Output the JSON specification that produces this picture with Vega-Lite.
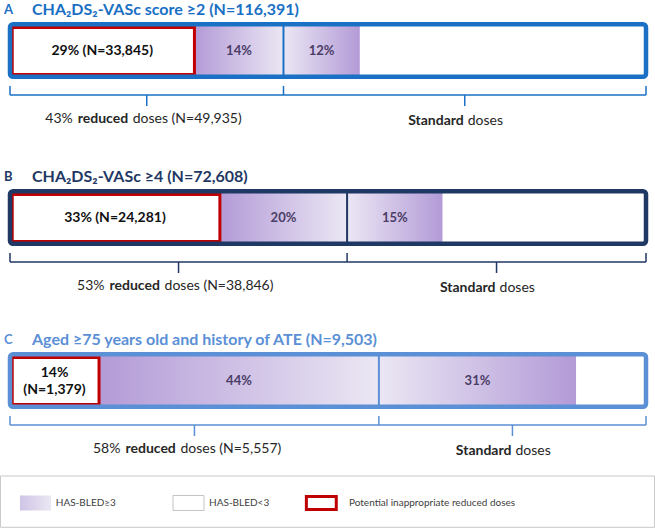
{
  "$schema": "https://vega.github.io/schema/vega-lite/v6.json",
  "width": 655,
  "height": 528,
  "autosize": {"type": "none"},
  "padding": 0,
  "config": {"view": {"stroke": null}, "font": "Lato"},
  "data": {"values": [
    {"panel": "A", "letter": "A", "title": "CHA₂DS₂-VASc score ≥2 (N=116,391)", "inappropriate": 29, "inappropriate_label": "29% (N=33,845)", "reduced_high": 14, "reduced_total": 43, "reduced_n": "49,935", "standard_high": 12},
    {"panel": "B", "letter": "B", "title": "CHA₂DS₂-VASc ≥4 (N=72,608)", "inappropriate": 33, "inappropriate_label": "33% (N=24,281)", "reduced_high": 20, "reduced_total": 53, "reduced_n": "38,846", "standard_high": 15},
    {"panel": "C", "letter": "C", "title": "Aged ≥75 years old and history of ATE (N=9,503)", "inappropriate": 14, "inappropriate_label": "14%\n(N=1,379)", "reduced_high": 44, "reduced_total": 58, "reduced_n": "5,557", "standard_high": 31}
  ]},
  "transform": [
    {"calculate": "datum.reduced_total + datum.standard_high", "as": "standard_end"},
    {"calculate": "datum.inappropriate / 2", "as": "mid_inap"},
    {"calculate": "(datum.inappropriate + datum.reduced_total) / 2", "as": "mid_rh"},
    {"calculate": "(2 * datum.reduced_total + datum.standard_high) / 2", "as": "mid_sh"},
    {"calculate": "datum.reduced_total / 2", "as": "mid_r"},
    {"calculate": "(datum.reduced_total + 100) / 2", "as": "mid_s"},
    {"calculate": "datum.reduced_high + '%'", "as": "rh_label"},
    {"calculate": "datum.standard_high + '%'", "as": "sh_label"},
    {"calculate": "datum.reduced_total + '%'", "as": "r_pct"},
    {"calculate": "'doses (N=' + datum.reduced_n + ')'", "as": "r_rest"},
    {"calculate": "split(datum.inappropriate_label, '\\n').length", "as": "n_lines"},
    {"calculate": "datum.panel === 'A' ? 0 : datum.panel === 'B' ? 167 : 330", "as": "top"},
    {"calculate": "datum.top + 10", "as": "y_title"},
    {"calculate": "datum.top + 24.25", "as": "y_bar1"},
    {"calculate": "datum.top + 76.75", "as": "y_bar2"},
    {"calculate": "datum.top + 27.5", "as": "y_red1"},
    {"calculate": "datum.top + 74.5", "as": "y_red2"},
    {"calculate": "datum.top + 51", "as": "y_mid"},
    {"calculate": "datum.y_mid - (datum.n_lines - 1) * 8.5", "as": "y_inap"},
    {"calculate": "datum.top + 86", "as": "y_bt"},
    {"calculate": "datum.top + 95", "as": "y_b"},
    {"calculate": "datum.top + 106", "as": "y_bb"},
    {"calculate": "datum.top + 119", "as": "y_lr"},
    {"calculate": "datum.top + 121", "as": "y_ls"},
    {"calculate": "0", "as": "x_start"},
    {"calculate": "100", "as": "x_end"},
    {"calculate": "0.35", "as": "x_red"}
  ],
  "layer": [
    {
      "mark": {"type": "rect", "fill": {"gradient": "linear", "x1": 0, "y1": 0, "x2": 1, "y2": 0, "stops": [{"offset": 0, "color": "#b39bd7"}, {"offset": 1, "color": "#ebe7f4"}]}},
      "encoding": {
        "x": {"field": "inappropriate", "type": "quantitative", "scale": {"domain": [-1.572, 101.415], "nice": false, "zero": false}, "axis": null},
        "x2": {"field": "reduced_total"},
        "y": {"field": "y_bar1", "type": "quantitative", "scale": {"domain": [0, 528], "reverse": true, "nice": false, "zero": false}, "axis": null},
        "y2": {"field": "y_bar2"}
      }
    },
    {
      "mark": {"type": "rect", "fill": {"gradient": "linear", "x1": 0, "y1": 0, "x2": 1, "y2": 0, "stops": [{"offset": 0, "color": "#ebe7f4"}, {"offset": 1, "color": "#b39bd7"}]}},
      "encoding": {
        "x": {"field": "reduced_total", "type": "quantitative", "axis": null},
        "x2": {"field": "standard_end"},
        "y": {"field": "y_bar1", "type": "quantitative", "axis": null},
        "y2": {"field": "y_bar2"}
      }
    },
    {
      "mark": {"type": "rect", "fill": "#ffffff", "stroke": "#c00000", "strokeWidth": 3},
      "encoding": {
        "x": {"field": "x_red", "type": "quantitative", "axis": null},
        "x2": {"field": "inappropriate"},
        "y": {"field": "y_red1", "type": "quantitative", "axis": null},
        "y2": {"field": "y_red2"}
      }
    },
    {
      "mark": {"type": "rule", "strokeWidth": 2},
      "encoding": {
        "x": {"field": "reduced_total", "type": "quantitative", "axis": null},
        "y": {"field": "y_bar1", "type": "quantitative", "axis": null},
        "y2": {"field": "y_bar2"},
        "color": {"field": "panel", "type": "nominal", "scale": {"domain": ["A", "B", "C"], "range": ["#1a70c4", "#1f3864", "#5b8fd6"]}, "legend": null}
      }
    },
    {
      "mark": {"type": "rect", "filled": false, "strokeWidth": 4.5, "cornerRadius": 3},
      "encoding": {
        "x": {"field": "x_start", "type": "quantitative", "axis": null},
        "x2": {"field": "x_end"},
        "y": {"field": "y_bar1", "type": "quantitative", "axis": null},
        "y2": {"field": "y_bar2"},
        "color": {"field": "panel", "type": "nominal", "legend": null}
      }
    },
    {
      "mark": {"type": "text", "fontWeight": "bold", "fontSize": 14, "color": "#111111", "baseline": "middle", "lineBreak": "\n", "lineHeight": 17},
      "encoding": {
        "x": {"field": "mid_inap", "type": "quantitative", "axis": null},
        "y": {"field": "y_inap", "type": "quantitative", "axis": null},
        "text": {"field": "inappropriate_label", "type": "nominal"}
      }
    },
    {
      "mark": {"type": "text", "fontWeight": "bold", "fontSize": 13, "color": "#4a3d66", "baseline": "middle"},
      "encoding": {
        "x": {"field": "mid_rh", "type": "quantitative", "axis": null},
        "y": {"field": "y_mid", "type": "quantitative", "axis": null},
        "text": {"field": "rh_label", "type": "nominal"}
      }
    },
    {
      "mark": {"type": "text", "fontWeight": "bold", "fontSize": 13, "color": "#4a3d66", "baseline": "middle"},
      "encoding": {
        "x": {"field": "mid_sh", "type": "quantitative", "axis": null},
        "y": {"field": "y_mid", "type": "quantitative", "axis": null},
        "text": {"field": "sh_label", "type": "nominal"}
      }
    },
    {
      "mark": {"type": "rule", "strokeWidth": 1.5},
      "encoding": {
        "x": {"field": "x_start", "type": "quantitative", "axis": null},
        "x2": {"field": "x_end"},
        "y": {"field": "y_b", "type": "quantitative", "axis": null},
        "color": {"field": "panel", "type": "nominal", "legend": null}
      }
    },
    {
      "mark": {"type": "rule", "strokeWidth": 1.5},
      "encoding": {
        "x": {"field": "x_start", "type": "quantitative", "axis": null},
        "y": {"field": "y_bt", "type": "quantitative", "axis": null},
        "y2": {"field": "y_b"},
        "color": {"field": "panel", "type": "nominal", "legend": null}
      }
    },
    {
      "mark": {"type": "rule", "strokeWidth": 1.5},
      "encoding": {
        "x": {"field": "reduced_total", "type": "quantitative", "axis": null},
        "y": {"field": "y_bt", "type": "quantitative", "axis": null},
        "y2": {"field": "y_b"},
        "color": {"field": "panel", "type": "nominal", "legend": null}
      }
    },
    {
      "mark": {"type": "rule", "strokeWidth": 1.5},
      "encoding": {
        "x": {"field": "x_end", "type": "quantitative", "axis": null},
        "y": {"field": "y_bt", "type": "quantitative", "axis": null},
        "y2": {"field": "y_b"},
        "color": {"field": "panel", "type": "nominal", "legend": null}
      }
    },
    {
      "mark": {"type": "rule", "strokeWidth": 1.5},
      "encoding": {
        "x": {"field": "mid_r", "type": "quantitative", "axis": null},
        "y": {"field": "y_b", "type": "quantitative", "axis": null},
        "y2": {"field": "y_bb"},
        "color": {"field": "panel", "type": "nominal", "legend": null}
      }
    },
    {
      "mark": {"type": "rule", "strokeWidth": 1.5},
      "encoding": {
        "x": {"field": "mid_s", "type": "quantitative", "axis": null},
        "y": {"field": "y_b", "type": "quantitative", "axis": null},
        "y2": {"field": "y_bb"},
        "color": {"field": "panel", "type": "nominal", "legend": null}
      }
    },
    {
      "mark": {"type": "text", "fontSize": 14, "color": "#262626", "align": "right", "baseline": "middle", "dx": -74},
      "encoding": {
        "x": {"field": "mid_r", "type": "quantitative", "axis": null},
        "y": {"field": "y_lr", "type": "quantitative", "axis": null},
        "text": {"field": "r_pct", "type": "nominal"}
      }
    },
    {
      "mark": {"type": "text", "fontSize": 14, "fontWeight": "bold", "color": "#262626", "align": "left", "baseline": "middle", "dx": -69, "text": "reduced"},
      "encoding": {
        "x": {"field": "mid_r", "type": "quantitative", "axis": null},
        "y": {"field": "y_lr", "type": "quantitative", "axis": null}
      }
    },
    {
      "mark": {"type": "text", "fontSize": 14, "color": "#262626", "align": "left", "baseline": "middle", "dx": -14},
      "encoding": {
        "x": {"field": "mid_r", "type": "quantitative", "axis": null},
        "y": {"field": "y_lr", "type": "quantitative", "axis": null},
        "text": {"field": "r_rest", "type": "nominal"}
      }
    },
    {
      "mark": {"type": "text", "fontSize": 14, "fontWeight": "bold", "color": "#262626", "align": "right", "baseline": "middle", "dx": -1, "text": "Standard"},
      "encoding": {
        "x": {"field": "mid_s", "type": "quantitative", "axis": null},
        "y": {"field": "y_ls", "type": "quantitative", "axis": null}
      }
    },
    {
      "mark": {"type": "text", "fontSize": 14, "color": "#262626", "align": "left", "baseline": "middle", "dx": 3, "text": "doses"},
      "encoding": {
        "x": {"field": "mid_s", "type": "quantitative", "axis": null},
        "y": {"field": "y_ls", "type": "quantitative", "axis": null}
      }
    },
    {
      "mark": {"type": "text", "fontSize": 13, "fontWeight": "bold", "align": "left", "baseline": "middle", "dx": -6},
      "encoding": {
        "x": {"field": "x_start", "type": "quantitative", "axis": null},
        "y": {"field": "y_title", "type": "quantitative", "axis": null},
        "text": {"field": "letter", "type": "nominal"},
        "color": {"field": "panel", "type": "nominal", "legend": null}
      }
    },
    {
      "mark": {"type": "text", "fontSize": 16, "fontWeight": "bold", "align": "left", "baseline": "middle", "dx": 22},
      "encoding": {
        "x": {"field": "x_start", "type": "quantitative", "axis": null},
        "y": {"field": "y_title", "type": "quantitative", "axis": null},
        "text": {"field": "title", "type": "nominal"},
        "color": {"field": "panel", "type": "nominal", "legend": null}
      }
    },
    {
      "data": {"values": [{"part": "legend box"}]},
      "transform": [
        {"calculate": "-1.5", "as": "bx1"},
        {"calculate": "101.35", "as": "bx2"},
        {"calculate": "476", "as": "by1"},
        {"calculate": "527.3", "as": "by2"}
      ],
      "mark": {"type": "rect", "fill": null, "stroke": "#c8c8c8", "strokeWidth": 1},
      "encoding": {
        "x": {"field": "bx1", "type": "quantitative", "axis": null},
        "x2": {"field": "bx2"},
        "y": {"field": "by1", "type": "quantitative", "axis": null},
        "y2": {"field": "by2"}
      }
    },
    {
      "data": {"name": "legend", "values": [
        {"item": "HAS-BLED≥3", "order": 0},
        {"item": "HAS-BLED<3", "order": 1},
        {"item": "Potential inappropriate reduced doses", "order": 2}
      ]},
      "transform": [
        {"calculate": "[1.57, 25.63, 46.6][datum.order]", "as": "sx1"},
        {"calculate": "[6.45, 30.5, 51.3][datum.order]", "as": "sx2"},
        {"calculate": "[495.5, 495.5, 496.5][datum.order]", "as": "sy1"},
        {"calculate": "[510.5, 510.5, 509.5][datum.order]", "as": "sy2"},
        {"calculate": "[7.2, 31.3, 53.3][datum.order]", "as": "lx"},
        {"calculate": "503", "as": "ly"}
      ],
      "layer": [
        {
          "transform": [{"filter": "datum.order === 0"}],
          "mark": {"type": "rect", "fill": {"gradient": "linear", "x1": 0, "y1": 0, "x2": 1, "y2": 0, "stops": [{"offset": 0, "color": "#cfc4e6"}, {"offset": 1, "color": "#ebe7f3"}]}},
          "encoding": {
            "x": {"field": "sx1", "type": "quantitative", "axis": null},
            "x2": {"field": "sx2"},
            "y": {"field": "sy1", "type": "quantitative", "axis": null},
            "y2": {"field": "sy2"}
          }
        },
        {
          "transform": [{"filter": "datum.order === 1"}],
          "mark": {"type": "rect", "fill": "#ffffff", "stroke": "#c4c4c4", "strokeWidth": 1},
          "encoding": {
            "x": {"field": "sx1", "type": "quantitative", "axis": null},
            "x2": {"field": "sx2"},
            "y": {"field": "sy1", "type": "quantitative", "axis": null},
            "y2": {"field": "sy2"}
          }
        },
        {
          "transform": [{"filter": "datum.order === 2"}],
          "mark": {"type": "rect", "fill": "#ffffff", "stroke": "#c00000", "strokeWidth": 3},
          "encoding": {
            "x": {"field": "sx1", "type": "quantitative", "axis": null},
            "x2": {"field": "sx2"},
            "y": {"field": "sy1", "type": "quantitative", "axis": null},
            "y2": {"field": "sy2"}
          }
        },
        {
          "mark": {"type": "text", "align": "left", "baseline": "middle", "fontSize": 10, "color": "#404040"},
          "encoding": {
            "x": {"field": "lx", "type": "quantitative", "axis": null},
            "y": {"field": "ly", "type": "quantitative", "axis": null},
            "text": {"field": "item", "type": "nominal"}
          }
        }
      ]
    }
  ]
}
